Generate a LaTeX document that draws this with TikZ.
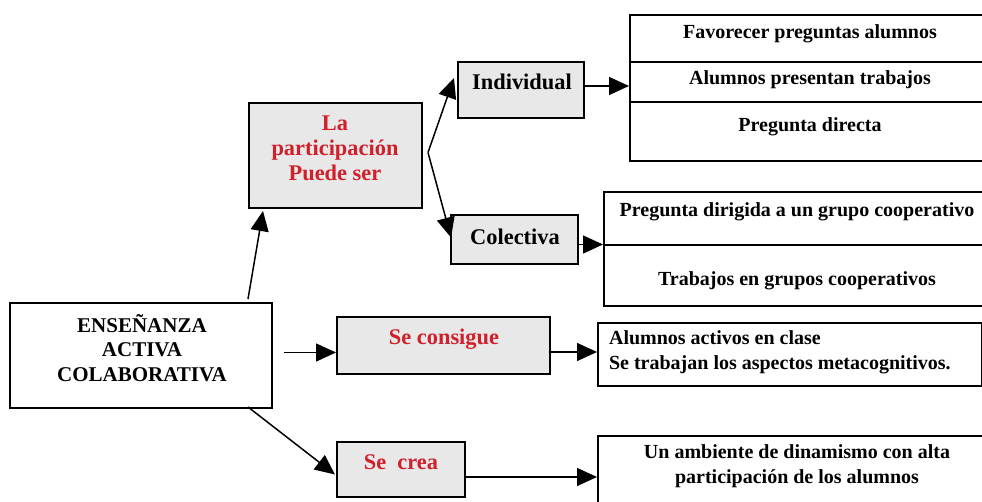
\documentclass[tikz,border=0pt]{standalone}
\usepackage{fontspec}
\setmainfont{Liberation Serif}
\usetikzlibrary{arrows.meta,calc}
\definecolor{boxgray}{HTML}{E8E8E8}
\definecolor{partred}{HTML}{D0202C}

\begin{document}
\begin{tikzpicture}[
    x=0.5pt, y=-0.5pt,
    gbox/.style={draw=black, fill=boxgray, line width=1pt, inner sep=0pt},
    wbox/.style={draw=black, fill=white, line width=1pt, inner sep=0pt},
    head/.style={font=\fontsize{10.5}{12.25}\selectfont\bfseries, align=center},
    redtxt/.style={font=\fontsize{11.2}{12.5}\selectfont\bfseries, text=partred, align=center},
    item/.style={font=\fontsize{10}{12.3}\selectfont\bfseries, align=center},
    rule/.style={line width=0.8pt},
    link/.style={line width=0.75pt, -{Triangle[length=10pt,width=9pt]}},
  ]

  \useasboundingbox (0,0) rectangle (982,502);
  \clip (0,0) rectangle (982,502);

  % ---- the central box
  \node[wbox, minimum width=131pt, minimum height=52.5pt] (main) at (141,355.5) {};
  \node[head] (maintxt) at (142,348) {ENSEÑANZA\\ACTIVA\\COLABORATIVA};

  % ---- grey boxes
  \node[gbox, minimum width=86.5pt, minimum height=52.5pt] (part) at (335.5,155.5) {};
  \node[redtxt] (parttxt) at (335,148) {La\\participación\\Puede ser};

  \node[gbox, minimum width=63pt, minimum height=28pt] (indiv) at (521,90) {};
  \node[head, font=\fontsize{11.2}{12.5}\selectfont\bfseries] (indivtxt) at (522,82) {Individual};

  \node[gbox, minimum width=63.5pt, minimum height=24.5pt] (colec) at (514.5,239.5) {};
  \node[head, font=\fontsize{11.2}{12.5}\selectfont\bfseries] (colectxt) at (515,237) {Colectiva};

  \node[gbox, minimum width=106.5pt, minimum height=28.5pt] (cons) at (443.5,345.5) {};
  \node[redtxt] (constxt) at (444,339) {Se consigue};

  \node[gbox, minimum width=64pt, minimum height=27.5pt] (crea) at (401,469.5) {};
  \node[redtxt] (creatxt) at (401,462) {Se~~crea};

  % ---- lists on the right
  \node[wbox, anchor=north west, minimum width=185.5pt, minimum height=73pt] (listA) at (629,14) {};
  \draw[rule] (629,62) -- (1000,62);
  \draw[rule] (629,102) -- (1000,102);
  \node[item] (a1) at (810,34) {Favorecer preguntas alumnos};
  \node[item] (a2) at (810,80) {Alumnos presentan trabajos};
  \node[item] (a3) at (810,127) {Pregunta directa};

  \node[wbox, anchor=north west, minimum width=198.5pt, minimum height=57pt] (listB) at (603,191) {};
  \draw[rule] (603,245) -- (1000,245);
  \node[item] (b1) at (797,212) {Pregunta dirigida a un grupo cooperativo};
  \node[item] (b2) at (797,281) {Trabajos en grupos cooperativos};

  \node[wbox, anchor=north west, minimum width=192pt, minimum height=31.5pt] (listC) at (597,322) {};
  \node[item, align=left, anchor=west] (c1) at (602,352) {Alumnos activos en clase\\Se trabajan los aspectos metacognitivos.};

  \node[wbox, anchor=north west, minimum width=201.5pt, minimum height=42.5pt] (listD) at (597,435) {};
  \node[item] (d1) at (797,466) {Un ambiente de dinamismo con alta\\participación de los alumnos};

  % ---- connectors
  \draw[link] ($(main.north east)+(-25,-3)$) -- ($(part.south west)+(15,2)$);
  \coordinate (fork) at ($(part.east)+(5,-3)$);
  \draw[link] (fork) -- ($(indiv.west)+(-3,-12)$);
  \draw[link] (fork) -- ($(colec.west)+(1,-2)$);

  \coordinate (iout) at ($(indiv.east)+(0,-4)$);
  \draw[link] (iout) -- (iout -| listA.west);
  \coordinate (cout) at ($(colec.east)+(0,5)$);
  \draw[link] (cout) -- (cout -| listB.west);

  \coordinate (mout) at ($(main.east)+(11,-3)$);
  \draw[link] (mout) -- (mout -| cons.west);
  \coordinate (sout) at ($(cons.east)+(0,6.5)$);
  \draw[link] (sout) -- (sout -| listC.west);

  \draw[link] ($(main.south east)+(-25,-2)$) -- ($(crea.west)+(-1,5)$);
  \coordinate (rout) at ($(crea.east)+(0,7.5)$);
  \draw[link] (rout) -- (rout -| listD.west);

\end{tikzpicture}
\end{document}
